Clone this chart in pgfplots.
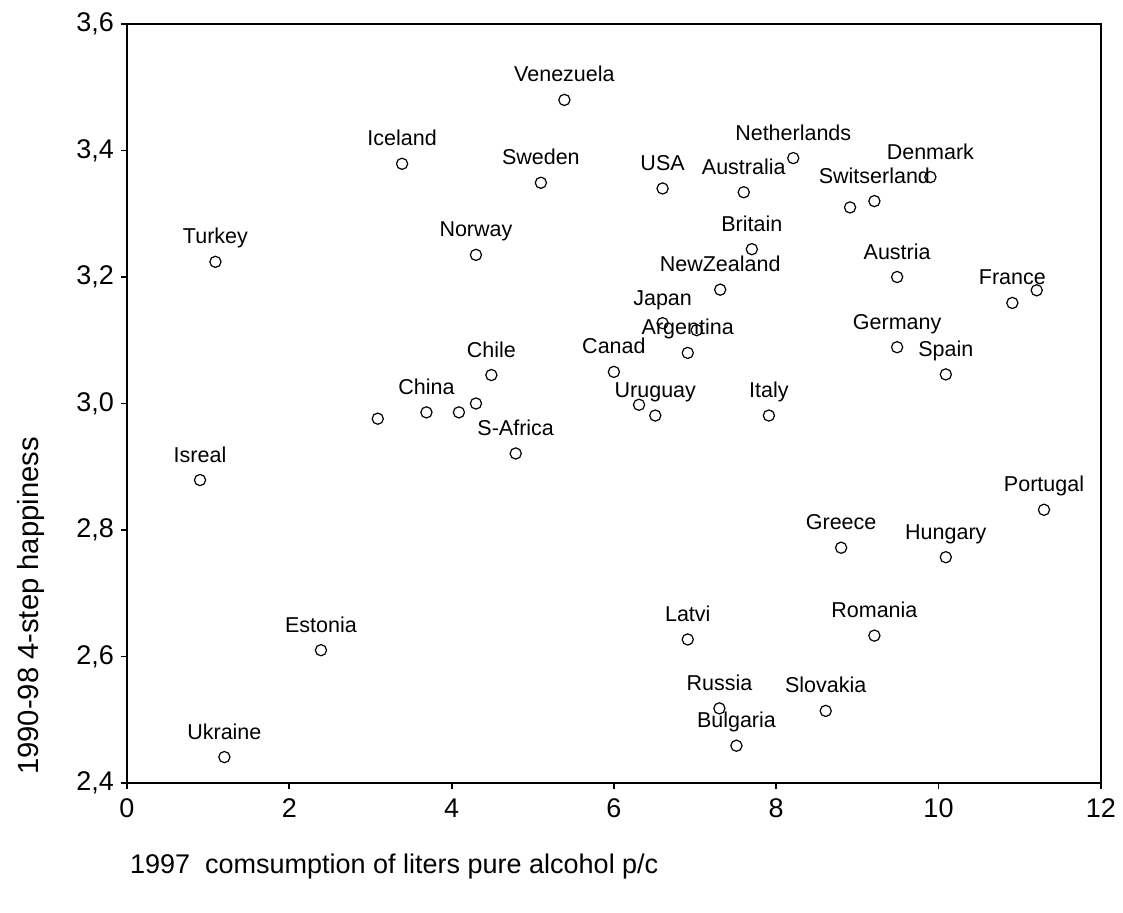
\documentclass[border=0pt]{standalone}
\usepackage{pgfplots}
\pgfplotsset{compat=1.18}
\usepackage{fontspec}
\setmainfont{Liberation Sans}

\newcommand{\lblfont}{\fontsize{10.75}{12}\selectfont}
\newcommand{\tickfont}{\fontsize{13.5}{16}\selectfont}

\begin{document}
\begin{tikzpicture}
\useasboundingbox (-63.5pt,-64.5pt) rectangle (498pt,391.5pt);
\begin{axis}[
    at={(0,0)}, anchor=south west,
    scale only axis,
    width=486.9pt, height=379.5pt,
    xmin=0, xmax=12,
    ymin=2.4, ymax=3.6,
    xtick={0,2,4,6,8,10,12},
    ytick={2.4,2.6,2.8,3.0,3.2,3.4,3.6},
    tick align=outside,
    major tick length=3pt,
    xtick pos=bottom, ytick pos=left,
    axis line style={line width=0.9pt},
    tick style={line width=0.9pt, black},
    tick label style={font=\tickfont},
    yticklabel style={/pgf/number format/.cd, fixed, fixed zerofill, precision=1, use comma, assume math mode=true},
    xticklabel style={/pgf/number format/assume math mode=true},
    xticklabel shift=1.5pt,
    yticklabel shift=0pt,
    xlabel={1997\ \ comsumption of liters pure alcohol p/c},
    ylabel={1990-98 4-step happiness},
    xlabel style={font=\tickfont, at={(axis description cs:0,0)}, anchor=west, xshift=-2pt, yshift=-42pt},
    ylabel style={font=\fontsize{14.6}{17}\selectfont, at={(axis description cs:0,0.2332)}, anchor=center, yshift=48pt},
    clip=false,
]

% labelled countries
\addplot[
    only marks,
    mark=o,
    mark size=2.8pt,
    mark options={line width=0.6pt, black},
    point meta=explicit symbolic,
    nodes near coords,
    every node near coord/.append style={anchor=base, yshift=9pt, inner sep=0pt, font=\lblfont, black},
    ]
    coordinates {
(1.09,3.224) [Turkey]
(0.90,2.879) [Isreal]
(1.20,2.441) [Ukraine]
(2.39,2.610) [Estonia]
(3.39,3.379) [Iceland]
(3.69,2.986) [China]
(4.49,3.045) [Chile]
(4.30,3.235) [Norway]
(4.79,2.921) [S-Africa]
(5.10,3.349) [Sweden]
(5.39,3.480) [Venezuela]
(6.00,3.050) [Canad]
(6.51,2.981) [Uruguay]
(6.60,3.340) [USA]
(6.60,3.127) [Japan]
(6.91,3.080) [Argentina]
(7.31,3.180) [NewZealand]
(7.60,3.334) [Australia]
(7.70,3.244) [Britain]
(7.91,2.981) [Italy]
(8.21,3.388) [Netherlands]
(9.21,3.320) [Switserland]
(9.90,3.358) [Denmark]
(9.49,3.200) [Austria]
(9.49,3.089) [Germany]
(10.09,3.046) [Spain]
(10.91,3.159) [France]
(11.30,2.832) [Portugal]
(8.80,2.772) [Greece]
(10.09,2.757) [Hungary]
(6.91,2.627) [Latvi]
(9.21,2.633) [Romania]
(7.30,2.518) [Russia]
(8.61,2.514) [Slovakia]
(7.51,2.459) [Bulgaria]
    };

% points without a label
\addplot[
    only marks,
    mark=o,
    mark size=2.8pt,
    mark options={line width=0.6pt, black},
    ]
    coordinates {
(3.09,2.976)
(4.09,2.986)
(4.30,3.000)
(6.31,2.998)
(7.02,3.116)
(8.91,3.310)
(11.21,3.179)
    };

\end{axis}
\end{tikzpicture}
\end{document}
